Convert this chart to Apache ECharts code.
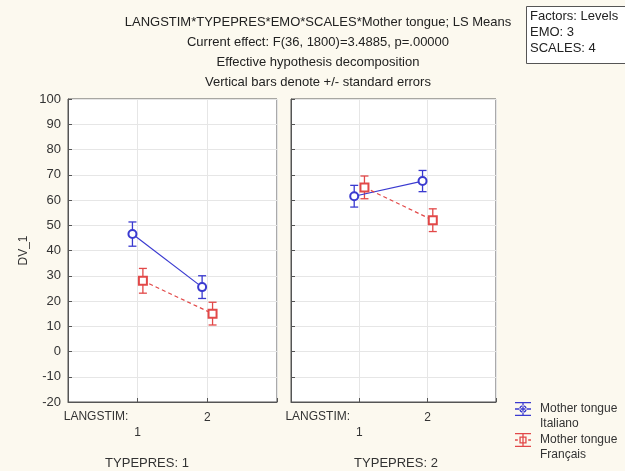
<!DOCTYPE html>
<html><head><meta charset="utf-8">
<script src="https://cdn.jsdelivr.net/npm/echarts@6/dist/echarts.min.js"></script>
<style>html,body{margin:0;padding:0;background:#fcf9ef;}#c{width:625px;height:471px;}</style>
</head><body><div id="c"></div>
<script>
// ---- data ----
const langstim = [1, 2];
const typepres = ['TYPEPRES: 1', 'TYPEPRES: 2'];
const seriesNames = ['Mother tongue\nItaliano', 'Mother tongue\nFrançais'];
const italianoMeans1 = [46.5, 25.5];
const italianoSE1 = [4.8, 4.5];
const francaisMeans1 = [28.0, 15.0];
const francaisSE1 = [4.9, 4.5];
const italianoMeans2 = [61.5, 67.5];
const italianoSE2 = [4.3, 4.2];
const francaisMeans2 = [65.0, 52.0];
const francaisSE2 = [4.5, 4.5];
const yTicks = { min: -20, max: 100, step: 10 };
const titleLines = [
  'LANGSTIM*TYPEPRES*EMO*SCALES*Mother tongue; LS Means',
  'Current effect: F(36, 1800)=3.4885, p=.00000',
  'Effective hypothesis decomposition',
  'Vertical bars denote +/- standard errors'
];
const factorLines = ['Factors: Levels', 'EMO: 3', 'SCALES: 4'];

// ---- chart ----
const BLUE = '#3a3ad0', RED = '#e24848';
const font = 'Liberation Sans, Arial, sans-serif';
const panels = [
  { it: italianoMeans1, itSE: italianoSE1, fr: francaisMeans1, frSE: francaisSE1 },
  { it: italianoMeans2, itSE: italianoSE2, fr: francaisMeans2, frSE: francaisSE2 }
];
const shift = 0.075;
const grids = [
  { left: 68, top: 99, width: 209, height: 303 },
  { left: 291, top: 99, width: 205, height: 303 }
].map(g => Object.assign(g, { show: true, backgroundColor: '#ffffff', borderColor: '#555', borderWidth: 1 }));

const xAxes = grids.map((g, i) => ({
  type: 'value', gridIndex: i, min: 0, max: 3, interval: 1,
  name: 'LANGSTIM:', nameLocation: 'start', nameGap: 0,
  nameTextStyle: { align: 'left', verticalAlign: 'top', padding: [9, 0, 0, 5], color: '#333', fontSize: 12, fontFamily: font },
  axisLine: { show: true, onZero: false, lineStyle: { color: '#555' } },
  axisTick: { show: true, inside: true, length: 4, lineStyle: { color: '#555' } },
  splitLine: { show: true, lineStyle: { color: '#e6e6e6' } },
  axisLabel: {
    color: '#333', fontSize: 12, fontFamily: font, margin: 8, lineHeight: 15,
    formatter: v => (v === langstim[0] ? '\n' + v : (v === langstim[1] ? String(v) : ''))
  }
}));
const yAxes = grids.map((g, i) => ({
  type: 'value', gridIndex: i, min: yTicks.min, max: yTicks.max, interval: yTicks.step,
  name: i === 0 ? 'DV_1' : '', nameLocation: 'middle', nameGap: 38,
  nameTextStyle: { color: '#333', fontSize: 12, fontFamily: font },
  axisLine: { show: true, lineStyle: { color: '#555' } },
  axisTick: { show: true, inside: true, length: 4, lineStyle: { color: '#555' } },
  splitLine: { show: true, lineStyle: { color: '#e6e6e6' } },
  axisLabel: { show: i === 0, color: '#333', fontSize: 13, fontFamily: font, margin: 7 }
}));

function errSeries(name, means, ses, dx, color, gi) {
  return {
    type: 'custom', name: name, xAxisIndex: gi, yAxisIndex: gi, silent: true, z: 3,
    itemStyle: { color: color },
    data: langstim.map((c, k) => [c + dx, means[k], ses[k]]),
    renderItem: (params, api) => {
      const x = api.value(0), m = api.value(1), s = api.value(2);
      const top = api.coord([x, m + s]), bot = api.coord([x, m - s]);
      const w = 4;
      const st = { stroke: color, lineWidth: 1.3 };
      return { type: 'group', children: [
        { type: 'line', shape: { x1: top[0], y1: top[1], x2: bot[0], y2: bot[1] }, style: st },
        { type: 'line', shape: { x1: top[0] - w, y1: top[1], x2: top[0] + w, y2: top[1] }, style: st },
        { type: 'line', shape: { x1: bot[0] - w, y1: bot[1], x2: bot[0] + w, y2: bot[1] }, style: st }
      ]};
    }
  };
}
function lineSeries(name, means, dx, color, symbol, dashed, gi) {
  return {
    type: 'line', name: name, xAxisIndex: gi, yAxisIndex: gi, z: 4,
    data: langstim.map((c, k) => [c + dx, means[k]]),
    symbol: symbol, symbolSize: 8, showSymbol: true,
    itemStyle: { color: color, borderColor: color, borderWidth: 1.3 },
    lineStyle: { color: color, width: 1.2, type: dashed ? [4, 3] : 'solid' }
  };
}
const series = [];
panels.forEach((p, gi) => {
  series.push(lineSeries(seriesNames[0], p.it, -shift, BLUE, 'emptyCircle', false, gi));
  series.push(lineSeries(seriesNames[1], p.fr, shift, RED, 'emptyRect', true, gi));
});
panels.forEach((p, gi) => {
  series.push(errSeries(seriesNames[0], p.it, p.itSE, -shift, BLUE, gi));
  series.push(errSeries(seriesNames[1], p.fr, p.frSE, shift, RED, gi));
});

// legend icons: error-bar glyph in the top half of a 16x28 box (aligns with first text line)
const capsPath = 'M0,0h16v1.3h-16zM0,12.7h16v1.3h-16zM7.35,0h1.3v14h-1.3z';
const iconIt = 'path://' + capsPath + 'M0,6.35h16v1.3h-16z' +
  'M4.3,7a3.7,3.7 0 1,0 7.4,0a3.7,3.7 0 1,0 -7.4,0zM5.6,7a2.4,2.4 0 1,1 4.8,0a2.4,2.4 0 1,1 -4.8,0z' +
  'M8,28z';
const iconFr = 'path://' + capsPath + 'M0,6.35h2.8v1.3h-2.8zM13.2,6.35h2.8v1.3h-2.8z' +
  'M4.4,3.4h7.2v7.2h-7.2zM5.7,4.7v4.6h4.6v-4.6z' +
  'M8,28z';

const titles = [
  { text: titleLines.join('\n'), left: 313, top: 8, textAlign: 'center',
    textStyle: { fontSize: 13, fontWeight: 'normal', color: '#222', fontFamily: font, lineHeight: 19.7 } },
  { text: typepres[0], left: 142, top: 452, textAlign: 'center',
    textStyle: { fontSize: 13, fontWeight: 'normal', color: '#333', fontFamily: font } },
  { text: typepres[1], left: 391, top: 452, textAlign: 'center',
    textStyle: { fontSize: 13, fontWeight: 'normal', color: '#333', fontFamily: font } },
  { text: factorLines.join('\n'), left: 526, top: 6, padding: [2, 30, 8, 4],
    borderColor: '#555', borderWidth: 1, backgroundColor: '#ffffff',
    textStyle: { fontSize: 13, fontWeight: 'normal', color: '#222', fontFamily: font, lineHeight: 16 } }
];

const chart = echarts.init(document.getElementById('c'), null, { renderer: 'canvas' });
chart.setOption({
  backgroundColor: '#fcf9ef',
  animation: false,
  title: titles,
  grid: grids,
  xAxis: xAxes,
  yAxis: yAxes,
  legend: {
    orient: 'vertical', left: 510, top: 396, itemGap: 1, itemWidth: 16, itemHeight: 28,
    itemStyle: { borderWidth: 0 },
    data: [
      { name: seriesNames[0], icon: iconIt, itemStyle: { color: BLUE, borderWidth: 0 } },
      { name: seriesNames[1], icon: iconFr, itemStyle: { color: RED, borderWidth: 0 } }
    ],
    textStyle: { fontSize: 12, color: '#333', fontFamily: font, lineHeight: 15, padding: [0, 0, 0, 4] }
  },
  series: series
});
</script></body></html>
